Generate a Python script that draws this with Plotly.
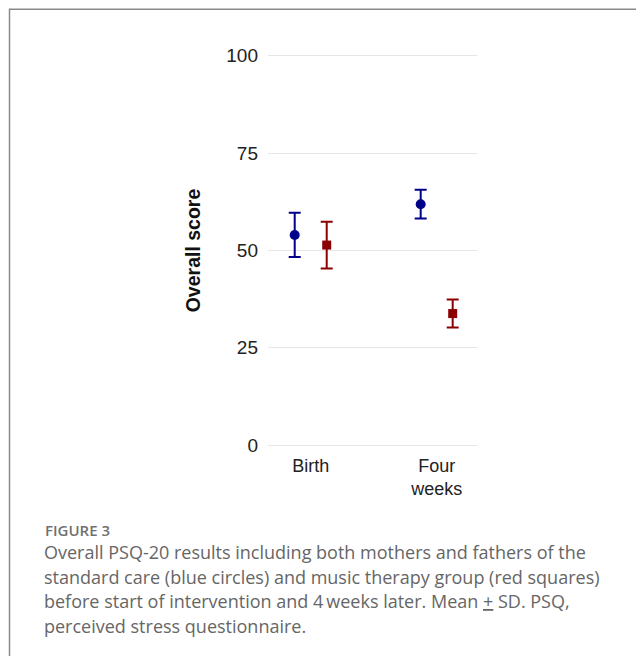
import plotly.graph_objects as go

# ---- data ----
categories = ["Birth", "Four<br>weeks"]
standard_mean = [54.0, 61.9]
standard_sd = [5.7, 3.7]
music_mean = [51.4, 33.8]
music_sd = [6.0, 3.6]
y_ticks = [0, 25, 50, 75, 100]
caption_title = "FIGURE 3"
caption_lines = [
    "Overall PSQ-20 results including both mothers and fathers of the",
    "standard care (blue circles) and music therapy group (red squares)",
    "before start of intervention and 4\u2009weeks later. Mean <u>+</u> SD. PSQ,",
    "perceived stress questionnaire.",
]

# ---- layout geometry (page pixels; page body has an 8px offset) ----
OFF = 8
W, H = 644 - OFF, 656 - OFF
PL, PR = 268 - OFF, 477 - OFF          # plot area left / right
Y0_PX, Y100_PX = 445 - OFF, 56 - OFF   # pixel rows of y=0 and y=100
YPAD = 1.5
scale = (Y0_PX - Y100_PX) / 100.0
PT = Y100_PX - YPAD * scale
PB = Y0_PX + YPAD * scale
DODGE = 0.127


def px_x(p):
    return (p - OFF - PL) / (PR - PL)


def px_y(p):
    return (PB - (p - OFF)) / (PB - PT)


idx = list(range(len(categories)))
x_std = [i - DODGE for i in idx]
x_mus = [i + DODGE for i in idx]

BLUE = "#00008B"
RED = "#8B0000"

fig = go.Figure()
fig.add_trace(go.Scatter(
    x=x_std, y=standard_mean, mode="markers",
    marker=dict(symbol="circle", size=10, color=BLUE),
    error_y=dict(type="data", array=standard_sd, color=BLUE, thickness=2, width=6),
    showlegend=False, cliponaxis=False,
))
fig.add_trace(go.Scatter(
    x=x_mus, y=music_mean, mode="markers",
    marker=dict(symbol="square", size=9, color=RED),
    error_y=dict(type="data", array=music_sd, color=RED, thickness=2, width=6),
    showlegend=False, cliponaxis=False,
))

font_axis = "Liberation Sans, Arial, sans-serif"
font_cap = "Open Sans, sans-serif"

annotations = [
    dict(xref="paper", yref="paper", x=px_x(43), y=px_y(542), xanchor="left", yanchor="bottom",
         text=caption_title, showarrow=False,
         font=dict(family=font_cap, size=15, color="#707070", weight=600)),
]
baselines = [560, 584.5, 609, 633.5]
for line, bl in zip(caption_lines, baselines):
    annotations.append(dict(
        xref="paper", yref="paper", x=px_x(42), y=px_y(bl + 6), xanchor="left", yanchor="bottom",
        text=line, showarrow=False, font=dict(family=font_cap, size=18, color="#666666"),
    ))

shapes = [
    dict(type="line", xref="paper", yref="paper", x0=px_x(9), x1=px_x(660), y0=px_y(9.5), y1=px_y(9.5),
         line=dict(color="#8a8a8a", width=1.5)),
    dict(type="line", xref="paper", yref="paper", x0=px_x(9.5), x1=px_x(9.5), y0=px_y(9), y1=px_y(670),
         line=dict(color="#8a8a8a", width=1.5)),
]

fig.update_layout(
    width=W, height=H,
    margin=dict(l=PL, r=W - PR, t=PT, b=H - PB, pad=0, autoexpand=False),
    paper_bgcolor="white", plot_bgcolor="white",
    xaxis=dict(
        range=[-0.339, 1.32], tickvals=idx, ticktext=categories,
        showgrid=False, zeroline=False, showline=False, ticks="",
        tickfont=dict(family=font_axis, size=18, color="#222"),
        ticklabelstandoff=2,
    ),
    yaxis=dict(
        range=[-YPAD, 100 + YPAD], tickvals=y_ticks, showgrid=True, gridcolor="#e6e6e6", gridwidth=1,
        zeroline=False, showline=False, ticks="",
        tickfont=dict(family=font_axis, size=19, color="#222"),
        ticklabelstandoff=9,
        title=dict(text="<b>Overall score</b>", standoff=20,
                   font=dict(family=font_axis, size=19.5, color="#111")),
    ),
    annotations=annotations,
    shapes=shapes,
)

fig.write_html("out.html")
